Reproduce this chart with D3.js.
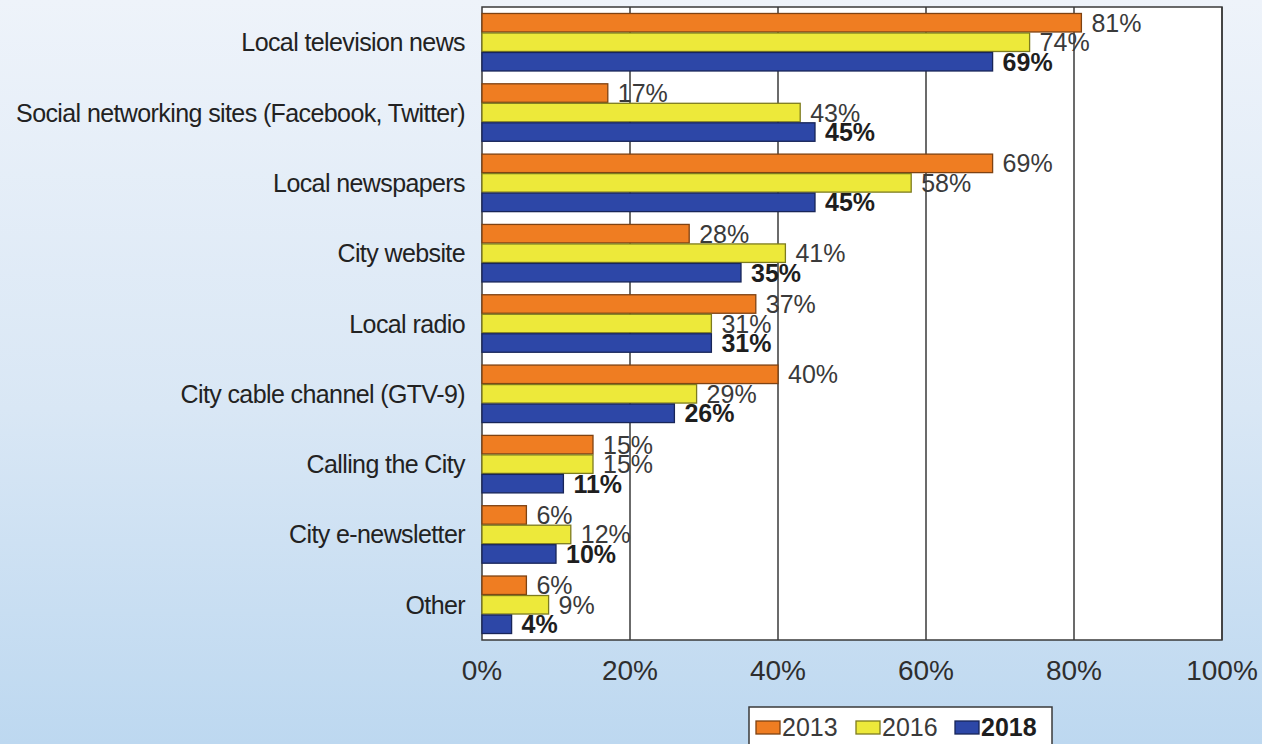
<!DOCTYPE html>
<html>
<head>
<meta charset="utf-8">
<script src="https://cdn.jsdelivr.net/npm/d3@7"></script>
<style>
  body { margin: 0; overflow: hidden; }
  text { font-family: "Liberation Sans", Arial, sans-serif; }
</style>
</head>
<body>
<script>
// data
const categories = [
  "Local television news",
  "Social networking sites (Facebook, Twitter)",
  "Local newspapers",
  "City website",
  "Local radio",
  "City cable channel (GTV-9)",
  "Calling the City",
  "City e-newsletter",
  "Other"
];
const years = ["2013", "2016", "2018"];
const v2013 = [81, 17, 69, 28, 37, 40, 15, 6, 6];
const v2016 = [74, 43, 58, 41, 31, 29, 15, 12, 9];
const v2018 = [69, 45, 45, 35, 31, 26, 11, 10, 4];
const xTicks = [0, 20, 40, 60, 80, 100];

const seriesColors = ["#ef7d22", "#ede93a", "#2d47a7"];

const W = 1262, H = 744;
const plotLeft = 482, plotRight = 1222, plotTop = 7, plotBottom = 640;

const svg = d3.select("body").append("svg")
  .attr("width", W)
  .attr("height", H);

// background gradient
const grad = svg.append("defs").append("linearGradient")
  .attr("id", "bg").attr("x1", 0).attr("y1", 0).attr("x2", 0).attr("y2", 1);
grad.append("stop").attr("offset", "0%").attr("stop-color", "#eef3fa");
grad.append("stop").attr("offset", "55%").attr("stop-color", "#d9e7f5");
grad.append("stop").attr("offset", "100%").attr("stop-color", "#bdd8f0");
svg.append("rect").attr("width", W).attr("height", H).attr("fill", "url(#bg)");

const x = d3.scaleLinear().domain([0, 100]).range([plotLeft, plotRight]);
const y = d3.scaleBand().domain(categories).range([plotTop, plotBottom])
  .paddingInner(0.168).paddingOuter(0.085);
const ySub = d3.scaleBand().domain(years).range([0, y.bandwidth()]);

// plot area
svg.append("rect")
  .attr("x", plotLeft).attr("y", plotTop)
  .attr("width", plotRight - plotLeft).attr("height", plotBottom - plotTop)
  .attr("fill", "#fff");

// gridlines
svg.append("g").selectAll("line")
  .data(xTicks.slice(1))
  .join("line")
  .attr("x1", d => x(d)).attr("x2", d => x(d))
  .attr("y1", plotTop).attr("y2", plotBottom)
  .attr("stroke", "#3a3a3a").attr("stroke-width", 1.5);

// border
svg.append("rect")
  .attr("x", plotLeft).attr("y", plotTop)
  .attr("width", plotRight - plotLeft).attr("height", plotBottom - plotTop)
  .attr("fill", "none").attr("stroke", "#3a3a3a").attr("stroke-width", 1.5);

// rows: one record per bar
const rows = [];
categories.forEach((c, i) => {
  [v2013, v2016, v2018].forEach((vals, k) => {
    rows.push({ cat: c, year: years[k], k, value: vals[i] });
  });
});

const bars = svg.append("g");
bars.selectAll("rect")
  .data(rows)
  .join("rect")
  .attr("x", x(0))
  .attr("y", d => y(d.cat) + ySub(d.year) + 0.5)
  .attr("width", d => x(d.value) - x(0))
  .attr("height", ySub.bandwidth() - 1)
  .attr("fill", d => seriesColors[d.k])
  .attr("stroke", d => d3.color(seriesColors[d.k]).darker(1.8))
  .attr("stroke-width", 1.3);

// value labels
svg.append("g").selectAll("text")
  .data(rows)
  .join("text")
  .attr("x", d => x(d.value) + 10)
  .attr("y", d => y(d.cat) + ySub(d.year) + ySub.bandwidth() / 2)
  .attr("dy", "0.36em")
  .attr("font-size", 25)
  .attr("font-weight", d => d.k === 2 ? "bold" : "normal")
  .attr("fill", d => d.k === 2 ? "#1e1e1e" : "#3a3a3a")
  .text(d => d.value + "%");

// category labels
svg.append("g").selectAll("text")
  .data(categories)
  .join("text")
  .attr("x", 465)
  .attr("y", d => y(d) + y.bandwidth() / 2)
  .attr("dy", "0.36em")
  .attr("text-anchor", "end")
  .attr("font-size", 25)
  .attr("letter-spacing", -0.6)
  .attr("fill", "#222")
  .text(d => d);

// x axis tick labels
svg.append("g").selectAll("text")
  .data(xTicks)
  .join("text")
  .attr("x", d => x(d))
  .attr("y", 680)
  .attr("text-anchor", "middle")
  .attr("font-size", 28)
  .attr("fill", "#2e2e2e")
  .text(d => d + "%");

// legend
const legend = svg.append("g");
legend.append("rect")
  .attr("x", 749).attr("y", 707)
  .attr("width", 303).attr("height", 50)
  .attr("fill", "#fff").attr("stroke", "#3a3a3a").attr("stroke-width", 1.5);
const legendX = [756, 856, 955];
years.forEach((yr, k) => {
  legend.append("rect")
    .attr("x", legendX[k]).attr("y", 721)
    .attr("width", 24).attr("height", 13)
    .attr("fill", seriesColors[k])
    .attr("stroke", d3.color(seriesColors[k]).darker(1.8))
    .attr("stroke-width", 1.3);
  legend.append("text")
    .attr("x", legendX[k] + 26).attr("y", 736)
    .attr("font-size", 25)
    .attr("font-weight", k === 2 ? "bold" : "normal")
    .attr("fill", k === 2 ? "#1e1e1e" : "#3a3a3a")
    .text(yr);
});
</script>
</body>
</html>
